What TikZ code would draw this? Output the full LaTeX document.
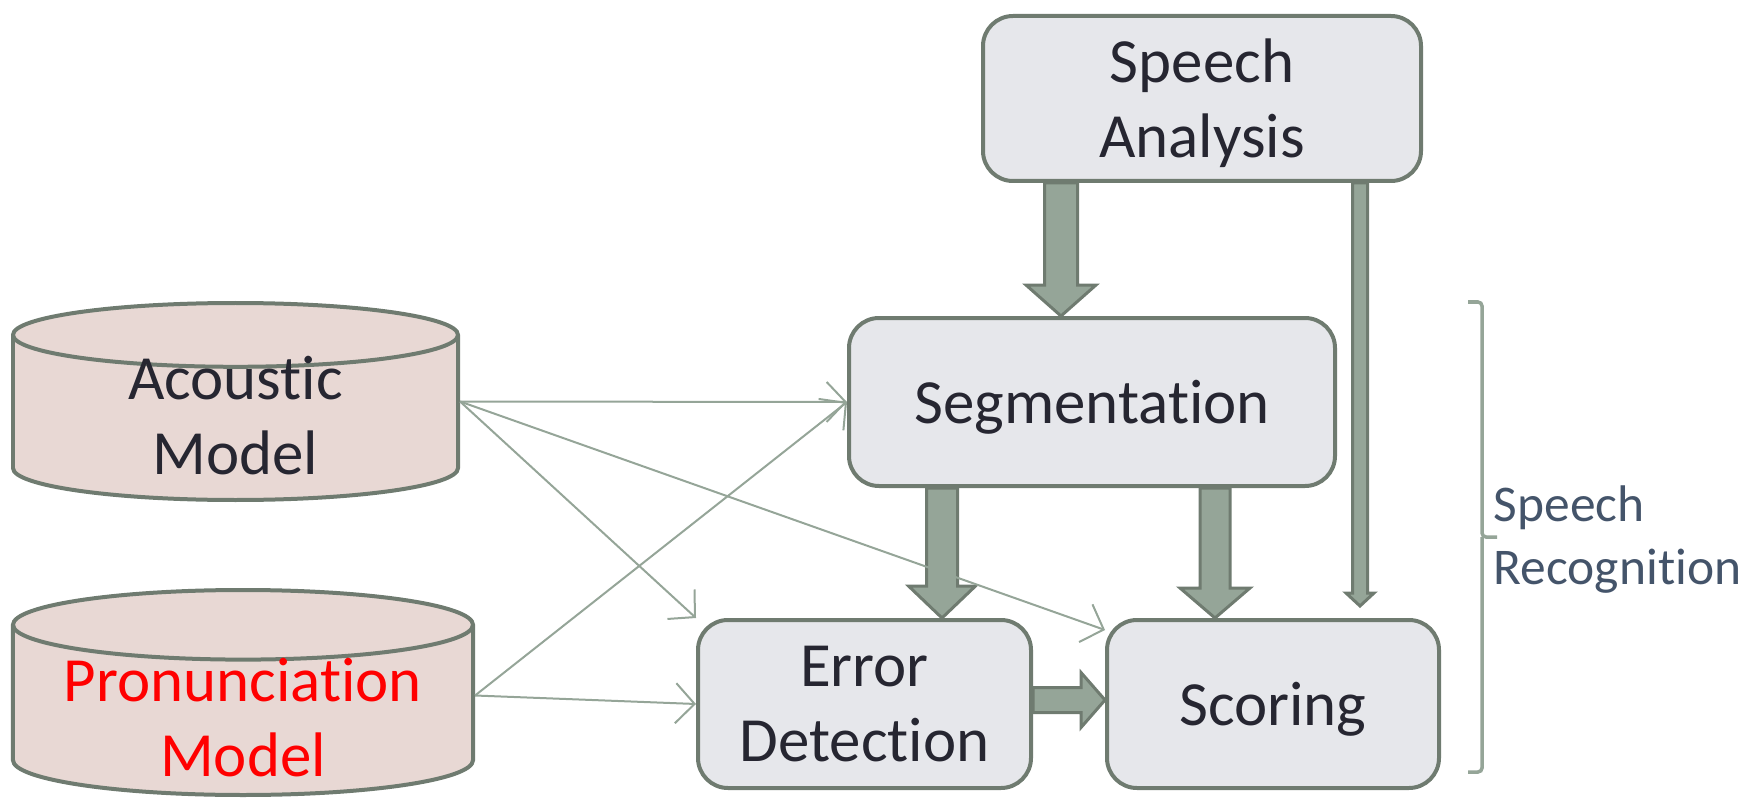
\documentclass[tikz,border=0pt]{standalone}
\usepackage{fontspec}
\setmainfont{Carlito}[Ligatures=NoCommon]
\usetikzlibrary{shapes.geometric,arrows.meta,positioning}

\definecolor{boxfill}{HTML}{E6E7EB}
\definecolor{edgegray}{HTML}{6F7B70}
\definecolor{flowgreen}{HTML}{95A598}
\definecolor{dbfill}{HTML}{E8D8D4}
\definecolor{inkdark}{HTML}{262631}
\definecolor{slate}{HTML}{44546A}

\tikzstyle{box} = [draw=edgegray, line width=0.04cm, fill=boxfill, rounded corners=0.3cm, text=inkdark, align=center, inner sep=0pt, text depth=0pt, font=\fontsize{17.9}{21.3}\selectfont]
\tikzstyle{db} = [cylinder, shape border rotate=90, shape aspect=0.29, draw=edgegray, line width=0.04cm, fill=dbfill, inner sep=0pt, anchor=shape center]
\tikzstyle{dbtext} = [text=inkdark, align=center, font=\fontsize{17.9}{21.3}\selectfont]
\tikzstyle{fat} = [draw=edgegray, line width=0.03cm, fill=flowgreen, line join=miter]

% block arrows: start, tip, half shaft, half head, head length
\newcommand{\fatdown}[5]{\draw[fat] ([xshift=-#3]#1) -- ([xshift=-#3,yshift=#5]#2) -- ([xshift=-#4,yshift=#5]#2) -- (#2) -- ([xshift=#4,yshift=#5]#2) -- ([xshift=#3,yshift=#5]#2) -- ([xshift=#3]#1) -- cycle;}
\newcommand{\fatright}[5]{\draw[fat] ([yshift=#3]#1) -- ([yshift=#3,xshift=-#5]#2) -- ([yshift=#4,xshift=-#5]#2) -- (#2) -- ([yshift=-#4,xshift=-#5]#2) -- ([yshift=-#3,xshift=-#5]#2) -- ([yshift=-#3]#1) -- cycle;}

\begin{document}
\begin{tikzpicture}[>={Straight Barb[length=0.19cm,width=0.4cm]}]
  \useasboundingbox (0,0) rectangle (17.52,7.99);

  \node[box, minimum width=4.86cm, minimum height=1.68cm] (seg) at (10.92,3.97) {Segmentation};
  \node[box, minimum width=4.38cm, minimum height=1.65cm, node distance=3.035cm, above of=seg, xshift=1.1cm] (analysis) {Speech\\Analysis};
  \node[box, minimum width=3.33cm, minimum height=1.68cm, node distance=3.02cm, below of=seg, xshift=-2.275cm] (errdet) {Error\\Detection};
  \node[box, minimum width=3.32cm, minimum height=1.68cm, node distance=4.085cm, right of=errdet] (scoring) {Scoring};

  \node[db, minimum width=4.45cm, minimum height=1.97cm] (acoustic) at (2.355,3.975) {\rule{2.2cm}{0pt}};
  \node[db, minimum width=4.6cm, minimum height=2.05cm] (pron) at (2.43,1.065) {\rule{2.4cm}{0pt}};
  \node[dbtext] (acoustictxt) at ([yshift=-0.14cm]acoustic.shape center) {Acoustic\\Model};
  \node[dbtext, text=red] (prontxt) at ([yshift=-0.25cm]pron.shape center) {Pronunciation\\Model};
  \coordinate (acout) at (acoustic.shape center -| acoustic.east);
  \coordinate (prout) at ([yshift=-0.03cm]pron.shape center -| pron.east);

  % thick flow arrows
  \coordinate (a1s) at ([xshift=-1.41cm]analysis.south);
  \coordinate (a1e) at (a1s |- seg.north);
  \fatdown{a1s}{a1e}{0.165cm}{0.35cm}{0.31cm}
  \coordinate (a2s) at ([xshift=-1.5cm]seg.south);
  \coordinate (a2e) at (a2s |- errdet.north);
  \fatdown{a2s}{a2e}{0.155cm}{0.335cm}{0.32cm}
  \coordinate (a3s) at ([xshift=1.23cm]seg.south);
  \coordinate (a3e) at (a3s |- scoring.north);
  \fatdown{a3s}{a3e}{0.15cm}{0.35cm}{0.3cm}
  \coordinate (a4s) at ([xshift=1.58cm]analysis.south);
  \coordinate (a4t) at (a4s |- scoring.north);
  \coordinate (a4e) at ([yshift=0.12cm]a4t);
  \fatdown{a4s}{a4e}{0.075cm}{0.14cm}{0.13cm}
  \coordinate (a5s) at ([yshift=0.04cm]errdet.east);
  \coordinate (a5e) at (a5s -| scoring.west);
  \fatright{a5s}{a5e}{0.125cm}{0.275cm}{0.24cm}

  % model inputs
  \begin{scope}[every path/.style={draw=flowgreen, line width=0.02cm}]
    \path[->] (acout) -- (seg.west);
    \path[->] (acout) -- (errdet.north west);
    \path[->] (acout) -- ([yshift=-0.12cm]scoring.north west);
    \path[->] (prout) -- (seg.west);
    \path[->] (prout) -- (errdet.west);
  \end{scope}

  \draw[flowgreen, line width=0.035cm, rounded corners=0.04cm] (14.68,4.97) -- (14.82,4.97) -- (14.82,2.62) -- (14.97,2.62) (14.82,2.62) -- (14.82,0.27) -- (14.68,0.27);
  \node[anchor=west, inner sep=0pt, align=left, text=slate, font=\fontsize{14.65}{17.9}\selectfont] (recog) at (14.93,2.59) {Speech\\Recognition};
\end{tikzpicture}
\end{document}
